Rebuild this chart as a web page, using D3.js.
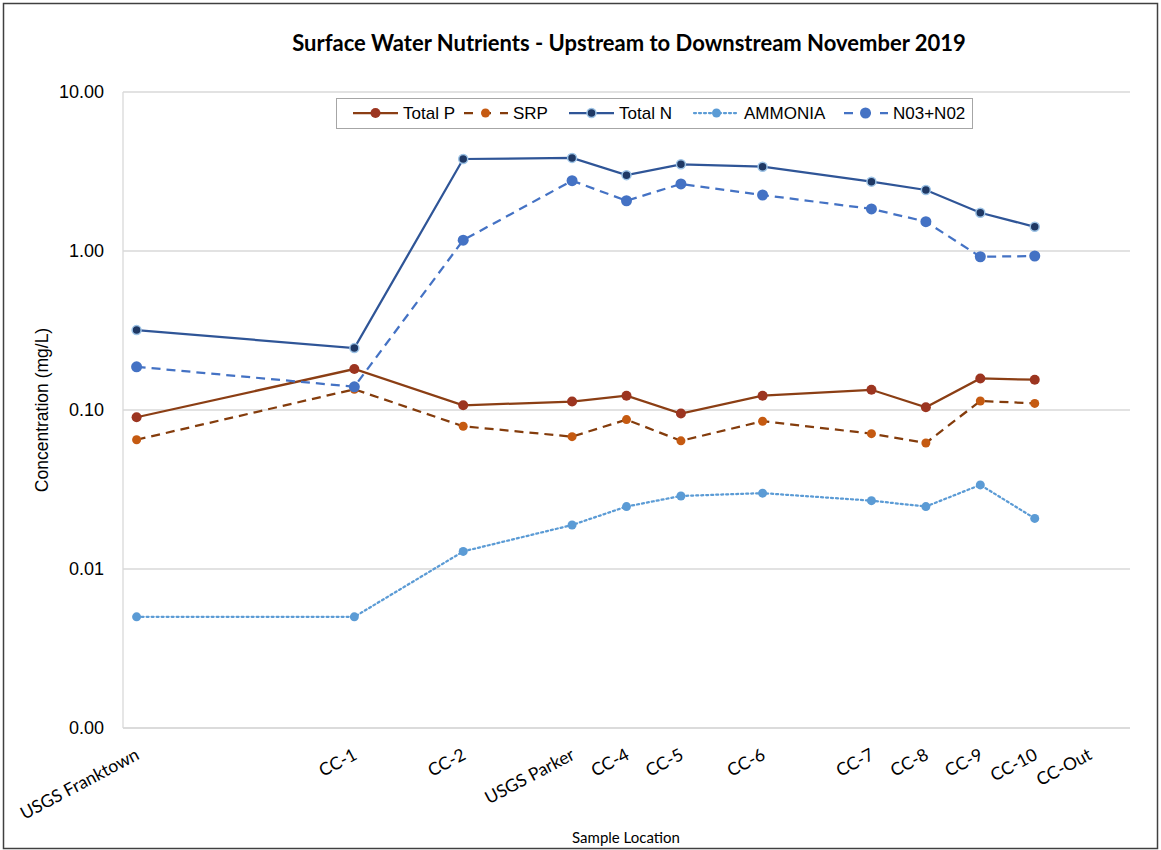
<!DOCTYPE html>
<html>
<head>
<meta charset="utf-8">
<script src="https://cdn.jsdelivr.net/npm/d3@7"></script>
<style>
  body { margin: 0; background: #fff; }
  svg text { font-family: Lato, "Open Sans", sans-serif; fill: #000; }
</style>
</head>
<body>
<div id="chart"></div>
<script>
// DATA
const locations = ["USGS Franktown", "CC-1", "CC-2", "USGS Parker", "CC-4", "CC-5", "CC-6", "CC-7", "CC-8", "CC-9", "CC-10", "CC-Out"];
const positions = [0, 4, 6, 8, 9, 10, 11.5, 13.5, 14.5, 15.5, 16.5, 17.5];   // relative distance downstream

const totalP   = [0.090, 0.181, 0.107, 0.113, 0.123, 0.095, 0.123, 0.134, 0.104, 0.158, 0.155, null];
const srp      = [0.065, 0.135, 0.079, 0.068, 0.087, 0.064, 0.085, 0.071, 0.062, 0.114, 0.110, null];
const totalN   = [0.318, 0.245, 3.79, 3.85, 3.00, 3.51, 3.39, 2.73, 2.42, 1.74, 1.42, null];
const ammonia  = [0.005, 0.005, 0.0129, 0.0189, 0.0247, 0.0288, 0.030, 0.0269, 0.0247, 0.0338, 0.0208, null];
const no3no2   = [0.187, 0.140, 1.17, 2.77, 2.07, 2.64, 2.25, 1.84, 1.53, 0.92, 0.93, null];

const yTicks = [0.001, 0.01, 0.1, 1, 10];

const series = [
  { name: "Total P",  values: totalP,  line: "#8B3E14", fill: "#9C3520", stroke: "none",    dash: null,  r: 5,   width: 2.25 },
  { name: "SRP",      values: srp,     line: "#843C0C", fill: "#C55A11", stroke: "none",    dash: "9,6", r: 4.5, width: 2.25 },
  { name: "Total N",  values: totalN,  line: "#2F5597", fill: "#1F3864", stroke: "#9DC3E6", dash: null,  r: 4.5, width: 2.25 },
  { name: "AMMONIA",  values: ammonia, line: "#5B9BD5", fill: "#5B9BD5", stroke: "none",    dash: "2,3", r: 4.5, width: 2.25 },
  { name: "N03+N02",  values: no3no2,  line: "#4472C4", fill: "#4472C4", stroke: "none",    dash: "9,6", r: 5.5, width: 2.25 }
];

// SETUP
const W = 1161, H = 850;
const margin = { top: 92, right: 31, bottom: 122, left: 123 };

const svg = d3.select("#chart").append("svg")
  .attr("width", W).attr("height", H);

svg.append("rect")
  .attr("x", 3.5).attr("y", 3.5)
  .attr("width", W - 7).attr("height", H - 5)
  .attr("fill", "#fff").attr("stroke", "#404040").attr("stroke-width", 1.5);

const x = d3.scaleLinear().domain([-0.25, 18.25]).range([margin.left, W - margin.right]);
const y = d3.scaleLog().domain([0.001, 10]).range([H - margin.bottom, margin.top]);

// GRID
svg.append("g").selectAll("line")
  .data(yTicks)
  .join("line")
  .attr("x1", margin.left).attr("x2", W - margin.right)
  .attr("y1", d => y(d)).attr("y2", d => y(d))
  .attr("stroke", "#D9D9D9").attr("stroke-width", 1.3);

svg.append("line")
  .attr("x1", margin.left).attr("x2", margin.left)
  .attr("y1", margin.top).attr("y2", H - margin.bottom)
  .attr("stroke", "#D9D9D9").attr("stroke-width", 1.3);

// Y AXIS
const yAxis = svg.append("g")
  .attr("transform", "translate(" + margin.left + ",0)")
  .call(d3.axisLeft(y).tickValues(yTicks).tickFormat(d3.format(".2f")).tickSize(0).tickPadding(19));
yAxis.select(".domain").remove();
yAxis.selectAll("text")
  .style("font-size", "18px")
  .style("font-family", "'Liberation Sans', Arial, sans-serif");

svg.append("text")
  .attr("transform", "translate(48," + ((margin.top + H - margin.bottom) / 2) + ") rotate(-90)")
  .attr("text-anchor", "middle")
  .style("font-size", "17.5px")
  .style("font-family", "'Liberation Sans', Arial, sans-serif")
  .text("Concentration (mg/L)");

// X AXIS
svg.append("line")
  .attr("x1", margin.left).attr("x2", W - margin.right)
  .attr("y1", H - margin.bottom).attr("y2", H - margin.bottom)
  .attr("stroke", "#D9D9D9").attr("stroke-width", 1.3);

svg.append("g").selectAll("text")
  .data(locations)
  .join("text")
  .attr("transform", (d, i) => "translate(" + (x(positions[i]) + 1) + "," + (H - margin.bottom + 25) + ") rotate(-28)")
  .attr("text-anchor", "end")
  .attr("dy", "0.35em")
  .style("font-size", "17.5px")
  .text(d => d);

svg.append("text")
  .attr("x", 626).attr("y", 843)
  .attr("text-anchor", "middle")
  .style("font-size", "15px")
  .text("Sample Location");

// TITLE
svg.append("text")
  .attr("x", 629).attr("y", 51)
  .attr("text-anchor", "middle")
  .style("font-size", "22px")
  .attr("font-weight", "bold")
  .text("Surface Water Nutrients - Upstream to Downstream November 2019");

// LINES
const line = d3.line()
  .x(d => x(d.p))
  .y(d => y(d.v));

series.forEach(s => {
  const pts = s.values.map((v, i) => ({ p: positions[i], v: v })).filter(d => d.v != null);
  const g = svg.append("g");
  g.append("path")
    .datum(pts)
    .attr("d", line)
    .attr("fill", "none")
    .attr("stroke", s.line)
    .attr("stroke-width", s.width)
    .attr("stroke-dasharray", s.dash)
    .attr("stroke-linecap", s.dash === "2,3" ? "round" : "butt");
  g.selectAll("circle")
    .data(pts)
    .join("circle")
    .attr("cx", d => x(d.p))
    .attr("cy", d => y(d.v))
    .attr("r", s.r)
    .attr("fill", s.fill)
    .attr("stroke", s.stroke)
    .attr("stroke-width", 1.5);
});

// LEGEND
const legend = svg.append("g");
legend.append("rect")
  .attr("x", 336.5).attr("y", 98.5)
  .attr("width", 636).attr("height", 30)
  .attr("fill", "#fff").attr("stroke", "#A6A6A6").attr("stroke-width", 1);

const legendX = [353, 463, 569, 694, 843];
series.forEach((s, i) => {
  const lx = legendX[i], ly = 113;
  legend.append("line")
    .attr("x1", lx).attr("x2", lx + 45)
    .attr("y1", ly).attr("y2", ly)
    .attr("stroke", s.line).attr("stroke-width", s.width)
    .attr("stroke-dasharray", s.dash ? (s.dash === "2,3" ? "2,3" : "9,9") : null)
    .attr("stroke-dashoffset", s.dash && s.dash !== "2,3" ? -1 : 0)
    .attr("stroke-linecap", s.dash === "2,3" ? "round" : "butt");
  legend.append("circle")
    .attr("cx", lx + 22.5).attr("cy", ly)
    .attr("r", s.r)
    .attr("fill", s.fill)
    .attr("stroke", s.stroke).attr("stroke-width", 1.5);
  legend.append("text")
    .attr("x", lx + 50).attr("y", ly)
    .attr("dy", "0.35em")
    .style("font-size", "17px")
    .style("font-family", "'Liberation Sans', Arial, sans-serif")
    .text(s.name);
});
</script>
</body>
</html>
